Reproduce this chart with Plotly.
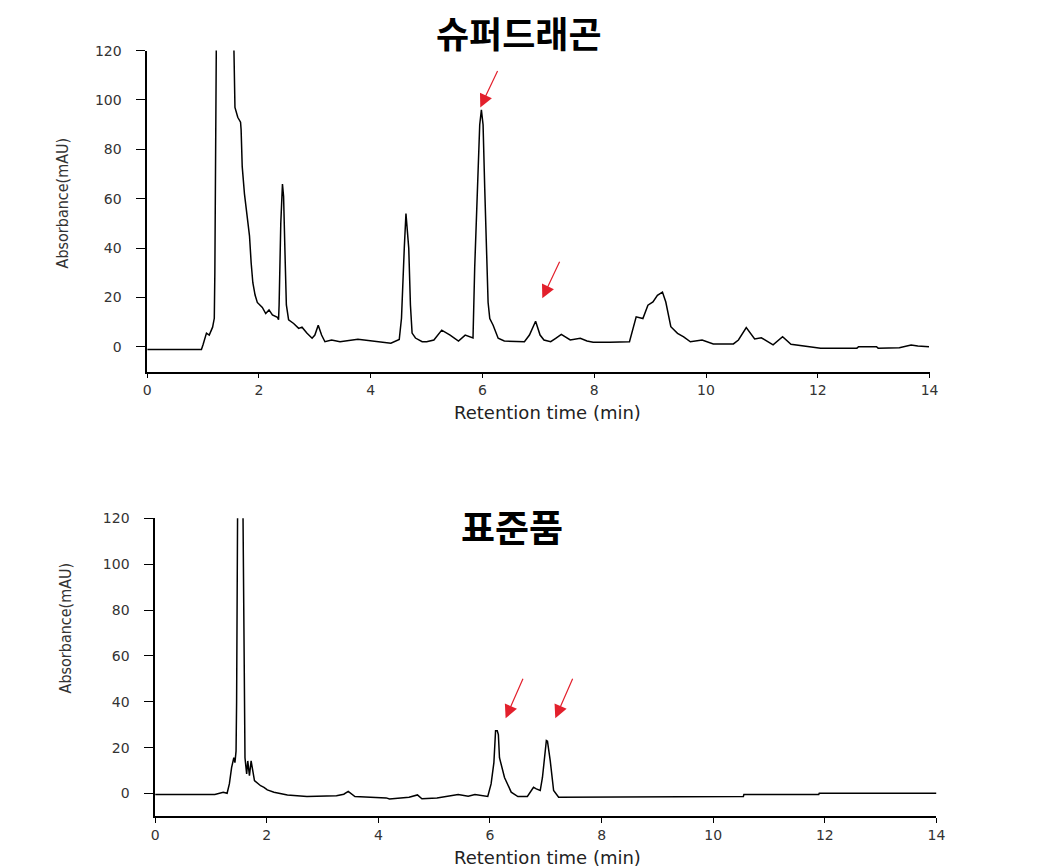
import plotly.graph_objects as go

# ---------------- data ----------------
top_title = "슈퍼드래곤"
bottom_title = "표준품"
x_title = "Retention time (min)"
y_title = "Absorbance(mAU)"
x_ticks = [0, 2, 4, 6, 8, 10, 12, 14]
y_ticks = [0, 20, 40, 60, 80, 100, 120]

top_t = [0.0, 0.97, 1.0, 1.06, 1.11, 1.17, 1.2, 1.21, 1.24, 1.30, 1.45, 1.54, 1.55, 1.57, 1.62, 1.67,
         1.68, 1.70, 1.74, 1.78, 1.83, 1.86, 1.89, 1.93, 1.97, 2.06, 2.12, 2.18, 2.24, 2.33,
         2.35, 2.36, 2.39, 2.42, 2.44, 2.47, 2.49, 2.53, 2.62, 2.71, 2.77, 2.86, 2.95, 3.0,
         3.06, 3.12, 3.18, 3.3, 3.45, 3.77, 4.03, 4.36, 4.51, 4.55, 4.60, 4.63, 4.68, 4.71,
         4.74, 4.8, 4.92, 5.0, 5.13, 5.27, 5.42, 5.57, 5.69, 5.80, 5.83, 5.86, 5.91, 5.95,
         5.98, 6.01, 6.04, 6.07, 6.10, 6.13, 6.19, 6.28, 6.39, 6.75, 6.84, 6.95, 7.03, 7.10,
         7.22, 7.31, 7.41, 7.57, 7.75, 7.87, 7.98, 8.28, 8.63, 8.75, 8.87, 8.96, 9.05, 9.13,
         9.22, 9.28, 9.37, 9.49, 9.60, 9.72, 9.93, 10.13, 10.49, 10.58, 10.72, 10.87, 10.99,
         11.20, 11.37, 11.52, 11.76, 12.05, 12.70, 12.73, 13.05, 13.08, 13.46, 13.67, 13.79, 13.99]
top_v = [-1.0, -1.0, 1.0, 5.6, 4.8, 8.0, 11.6, 30.0, 135.0, 300.0, 300.0, 135.0, 112.6, 97.0, 93.0, 91.0,
         88.0, 73.0, 62.0, 54.0, 45.0, 34.0, 26.0, 21.0, 18.0, 16.0, 13.5, 15.0, 13.0, 12.0,
         11.0, 17.0, 50.0, 66.0, 61.0, 34.0, 17.0, 11.0, 9.5, 7.5, 8.0, 5.5, 3.5, 4.8,
         8.8, 4.8, 2.1, 2.8, 2.1, 3.1, 2.4, 1.5, 3.0, 11.6, 40.0, 54.0, 40.0, 17.0,
         5.6, 3.6, 2.1, 2.1, 2.8, 6.8, 4.8, 2.4, 4.8, 3.6, 3.6, 32.0, 66.0, 90.0,
         96.0, 90.0, 64.0, 36.0, 18.0, 11.5, 8.8, 3.5, 2.4, 2.1, 4.8, 10.4, 4.8, 2.8,
         2.1, 3.5, 5.1, 2.8, 3.5, 2.4, 1.9, 1.9, 2.1, 12.2, 11.5, 16.9, 18.2, 20.9,
         22.2, 18.2, 8.2, 5.5, 4.1, 2.1, 2.8, 1.2, 1.2, 2.8, 7.8, 3.2, 3.7,
         0.8, 4.1, 1.1, 0.5, -0.5, -0.5, 0.1, 0.1, -0.5, -0.3, 0.8, 0.4, 0.1]

std_t = [0.0, 1.07, 1.22, 1.29, 1.33, 1.37, 1.41, 1.43, 1.45, 1.46, 1.48, 1.52, 1.55, 1.57, 1.59, 1.61,
         1.64, 1.66, 1.69, 1.72, 1.78, 1.81, 1.89, 1.95, 2.01, 2.13, 2.37, 2.72, 3.25, 3.38,
         3.46, 3.58, 4.14, 4.2, 4.55, 4.70, 4.78, 5.05, 5.43, 5.61, 5.73, 5.96, 6.02, 6.07,
         6.09, 6.10, 6.13, 6.15, 6.17, 6.26, 6.38, 6.50, 6.67, 6.78, 6.83, 6.90, 6.94,
         7.00, 7.01, 7.03, 7.08, 7.14, 7.23, 10.54, 10.55, 11.89, 11.90, 14.0]
std_v = [-0.4, -0.4, 0.6, 0.1, 4.2, 11.3, 15.6, 13.5, 18.5, 40.0, 135.0, 400.0, 400.0, 135.0, 52.0, 15.6,
         8.5, 14.2, 7.8, 14.2, 5.6, 4.9, 3.4, 2.7, 1.6, 0.6, -0.6, -1.3, -1.0, -0.3,
         0.9, -1.3, -1.9, -2.4, -1.6, -0.6, -2.3, -1.9, -0.4, -1.2, -0.4, -1.3, 4.2, 13.5,
         22.8, 27.4, 27.4, 25.7, 15.6, 7.0, 0.6, -1.3, -1.3, 2.7, 2.0, 1.3, 7.0,
         20.0, 23.1, 22.8, 14.2, 1.3, -1.6, -1.3, -0.4, -0.4, 0.1, 0.1]

# arrow tips (min, mAU)
top_arrow_t = [5.96, 7.07]
top_arrow_v = [97.0, 19.7]
std_arrow_t = [6.28, 7.17]
std_arrow_v = [32.8, 32.8]

# ---------------- figure ----------------
W, H = 1064, 867
FONT = "DejaVu Sans, Liberation Sans, Arial, sans-serif"
CFONT = "DejaVu Sans Condensed, DejaVu Sans, sans-serif"
KFONT = "Noto Sans CJK KR, sans-serif"

fig = go.Figure()
fig.add_trace(go.Scatter(x=top_t, y=top_v, mode="lines", xaxis="x", yaxis="y",
                         line=dict(color="black", width=1.5), showlegend=False, hoverinfo="skip"))
fig.add_trace(go.Scatter(x=std_t, y=std_v, mode="lines", xaxis="x2", yaxis="y2",
                         line=dict(color="black", width=1.5), showlegend=False, hoverinfo="skip"))


def px_x(p):
    return p / W


def px_y(p):
    return 1 - p / H


common_x = dict(range=[0, 14], tickvals=x_ticks, showgrid=False, zeroline=False,
                showline=True, linecolor="black", linewidth=1.5, ticks="outside",
                ticklen=5, tickwidth=1.2, tickcolor="black", ticklabelstandoff=0,
                tickfont=dict(family=FONT, size=14, color="#333"))
common_y = dict(range=[-10, 120], tickvals=y_ticks, showgrid=False, zeroline=False,
                showline=True, linecolor="black", linewidth=1.5, ticks="outside",
                ticklen=9, tickwidth=1.2, tickcolor="black", ticklabelstandoff=12,
                tickfont=dict(family=FONT, size=14, color="#333"))

fig.update_layout(
    width=W, height=H, margin=dict(l=0, r=0, t=0, b=0),
    paper_bgcolor="white", plot_bgcolor="white",
    xaxis=dict(domain=[px_x(145), px_x(937)], anchor="y", **common_x),
    yaxis=dict(domain=[px_y(367), px_y(43)], anchor="x", **common_y),
    xaxis2=dict(domain=[px_x(153), px_x(944)], anchor="y2", **common_x),
    yaxis2=dict(domain=[px_y(816), px_y(515)], anchor="x2", **common_y),
)

ann = []


def label(text, x, y, font, angle=0):
    ann.append(dict(text=text, x=px_x(x), y=px_y(y), xref="paper", yref="paper",
                    xanchor="center", yanchor="middle", textangle=angle,
                    showarrow=False, font=font))


label(top_title, 521, 24, dict(family=KFONT, size=36, color="black", weight="bold"))
label(bottom_title, 514, 523, dict(family=KFONT, size=37, color="black", weight="bold"))
label(x_title, 550, 408, dict(family=FONT, size=18, color="#222"))
label(x_title, 550, 857, dict(family=FONT, size=18, color="#222"))
label(y_title, 59, 197, dict(family=CFONT, size=16, color="#333"), -90)
label(y_title, 62, 626, dict(family=CFONT, size=16, color="#333"), -90)

for t, v in zip(top_arrow_t, top_arrow_v):
    ann.append(dict(x=t, y=v, xref="x", yref="y", ax=18, ay=-38, text="", showarrow=True,
                    arrowhead=2, arrowsize=2.2, arrowwidth=1.2, arrowcolor="#e3202c"))
for t, v in zip(std_arrow_t, std_arrow_v):
    ann.append(dict(x=t, y=v, xref="x2", yref="y2", ax=18, ay=-41, text="", showarrow=True,
                    arrowhead=2, arrowsize=2.2, arrowwidth=1.2, arrowcolor="#e3202c"))

fig.update_layout(annotations=ann)
fig.write_html("out.html")
